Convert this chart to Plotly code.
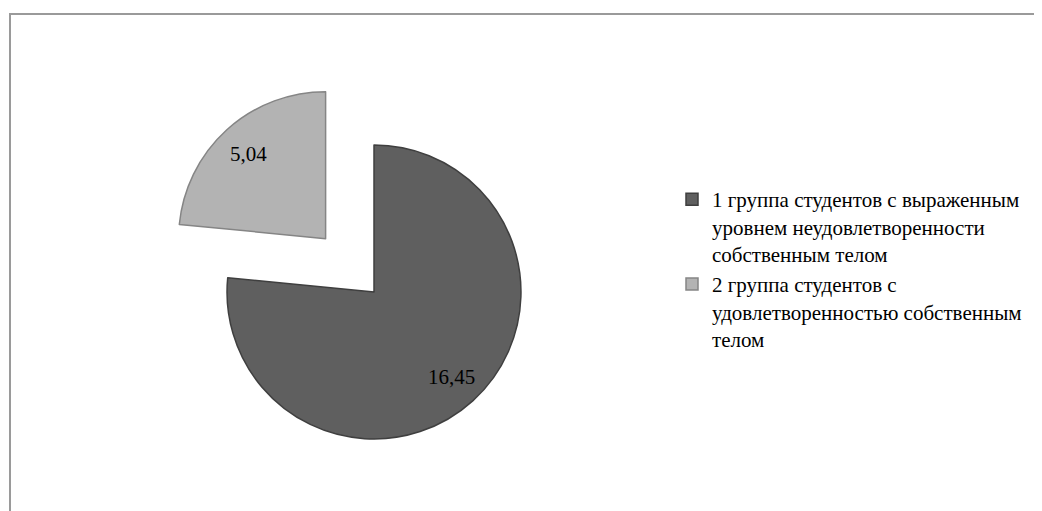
import math
import plotly.graph_objects as go

labels = [
    "1 группа студентов с выраженным<br>уровнем неудовлетворенности<br>собственным телом",
    "2 группа студентов с<br>удовлетворенностью собственным<br>телом",
]
values = [16.45, 5.04]
colors = ["#5f5f5f", "#b3b3b3"]
line_colors = ["#3f3f3f", "#858585"]
pulls = [0, 0.49]

SERIF = "'Liberation Serif', 'Times New Roman', 'DejaVu Serif', serif"

# page body adds an 8px offset, so the figure is sized to the visible area
W, H = 1034, 503

# pie domain in pixels
dom_x = (136, 596)
dom_y_top = 65
dom_x_f = [dom_x[0] / W, dom_x[1] / W]
dom_y_f = [0, 1 - dom_y_top / H]

fig = go.Figure(
    go.Pie(
        labels=labels,
        values=values,
        sort=False,
        direction="clockwise",
        rotation=0,
        pull=pulls,
        marker=dict(colors=colors, line=dict(color=line_colors, width=1.5)),
        textinfo="none",
        domain=dict(x=dom_x_f, y=dom_y_f),
        hoverinfo="label+value",
    )
)

# value labels placed along each slice bisector, the way the original chart does
aw = dom_x[1] - dom_x[0]
ah = H - dom_y_top
r = min(aw, ah) / (2 + 2 * max(pulls))
cx = (dom_x[0] + dom_x[1]) / 2
cy_up = H - (dom_y_top + ah / 2)  # centre, measured upward from bottom
total = sum(values)
cum = 0.0
annotations = []
for v, p in zip(values, pulls):
    mid = math.radians((cum + v / 2) / total * 360)
    cum += v
    d = (p + 0.78) * r
    px = cx + d * math.sin(mid)
    py = cy_up + d * math.cos(mid)
    annotations.append(
        dict(
            x=px / W,
            y=py / H,
            xref="paper",
            yref="paper",
            text=f"{v:.2f}".replace(".", ","),
            showarrow=False,
            xanchor="center",
            yanchor="middle",
            font=dict(family=SERIF, size=21, color="#000000"),
        )
    )

fig.update_layout(
    width=W,
    height=H,
    margin=dict(l=0, r=0, t=0, b=0),
    paper_bgcolor="white",
    plot_bgcolor="white",
    separators=", ",
    font=dict(family=SERIF, size=21, color="#000000"),
    showlegend=True,
    legend=dict(
        x=664 / W,
        y=1 - 171 / H,
        xanchor="left",
        yanchor="top",
        valign="top",
        bgcolor="rgba(0,0,0,0)",
        font=dict(family=SERIF, size=21, color="#000000"),
        itemwidth=30,
    ),
    annotations=annotations,
    shapes=[
        dict(
            type="rect",
            xref="paper",
            yref="paper",
            x0=2 / W,
            x1=1.05,
            y0=-0.05,
            y1=1 - 6 / H,
            line=dict(color="#9a9a9a", width=2),
            fillcolor="rgba(0,0,0,0)",
            layer="below",
        )
    ],
)

fig.write_html("out.html")
